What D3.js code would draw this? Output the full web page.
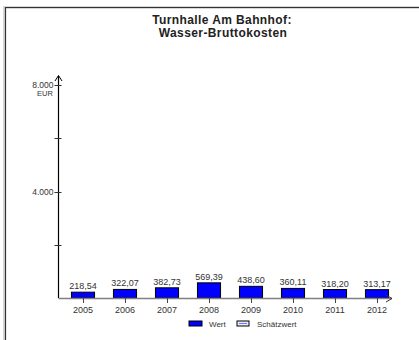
<!DOCTYPE html>
<html><head><meta charset="utf-8">
<script src="https://cdn.jsdelivr.net/npm/d3@7"></script>
<style>body{margin:0;background:#fff}svg{display:block}text{font-family:"Liberation Sans",Arial,sans-serif}</style>
</head><body>
<svg id="c" width="419" height="340"></svg>
<script>
const years = ["2005","2006","2007","2008","2009","2010","2011","2012"];
const values = [218.54,322.07,382.73,569.39,438.60,360.11,318.20,313.17];
const yTicks = [2000,4000,6000,8000];
const yLabels = [4000,8000];
const titleLines = ["Turnhalle Am Bahnhof:","Wasser-Bruttokosten"];
const legendItems = ["Wert","Schätzwert"];

const svg = d3.select("#c");
// frame
svg.append("path").attr("d","M4.5,340V7.5H419").attr("fill","none").attr("stroke","#d8d8d8").attr("stroke-width",3);
svg.append("path").attr("d","M5.5,340V7.5H419").attr("fill","none").attr("stroke","#333").attr("stroke-width",1.2);

const x = d3.scaleBand().domain(years).range([62,398]).paddingInner(0.45).paddingOuter(0.225);
const y = d3.scaleLinear().domain([0,8000]).range([298,85]);
const x0 = 58.5;

// title
svg.append("g").selectAll("text").data(titleLines).join("text")
  .attr("x",(d,i)=>222+i).attr("y",(d,i)=>24+i*13).attr("text-anchor","middle")
  .attr("font-size",12).attr("letter-spacing",0.4).attr("font-weight","bold").attr("fill","#222").text(d=>d);

// bars
const fmt = v => d3.format(".2f")(v).replace(".",",");
svg.append("g").selectAll("rect").data(values).join("rect")
  .attr("x",(d,i)=>x(years[i])).attr("width",x.bandwidth())
  .attr("y",d=>y(d)).attr("height",d=>y(0)-y(d))
  .attr("fill","#0000ff").attr("stroke","#000").attr("stroke-width",1);
svg.append("g").selectAll("text").data(values).join("text")
  .attr("x",(d,i)=>x(years[i])+x.bandwidth()/2).attr("y",d=>y(d)-3)
  .attr("text-anchor","middle").attr("font-size",9).attr("fill","#333").text(fmt);

// x axis
svg.append("line").attr("x1",x0).attr("x2",392).attr("y1",298.5).attr("y2",298.5).attr("stroke","#808080").attr("stroke-width",1.5);
svg.append("path").attr("d","M386,295L392,298.5L386,302").attr("fill","none").attr("stroke","#333").attr("stroke-width",1);
const xg = svg.append("g");
xg.selectAll("line").data(years).join("line")
  .attr("x1",d=>Math.round(x(d)+x.bandwidth()/2)+0.5).attr("x2",d=>Math.round(x(d)+x.bandwidth()/2)+0.5)
  .attr("y1",298).attr("y2",303).attr("stroke","#444");
xg.selectAll("text").data(years).join("text")
  .attr("x",d=>x(d)+x.bandwidth()/2).attr("y",313).attr("text-anchor","middle")
  .attr("font-size",9).attr("fill","#333").text(d=>d);

// y axis
svg.append("line").attr("x1",x0).attr("x2",x0).attr("y1",298).attr("y2",76).attr("stroke","#000").attr("stroke-width",1.2);
svg.append("path").attr("d",`M${x0-3.5},81L${x0},75.5L${x0+3.5},81`).attr("fill","none").attr("stroke","#000").attr("stroke-width",1);
svg.append("g").selectAll("line").data(yTicks).join("line")
  .attr("x1",x0-4).attr("x2",x0+3).attr("y1",d=>Math.round(y(d))+0.5).attr("y2",d=>Math.round(y(d))+0.5)
  .attr("stroke","#333");
svg.append("g").selectAll("text").data(yLabels).join("text")
  .attr("x",x0-5).attr("y",d=>y(d)+3).attr("text-anchor","end")
  .attr("font-size",8.5).attr("fill","#333").text(d=>d3.format(",")(d).replace(",","."));
svg.append("text").attr("x",45).attr("y",y(8000)+11).attr("text-anchor","middle")
  .attr("font-size",7.5).attr("fill","#333").text("EUR");

// legend
const lg = svg.append("g").attr("transform","translate(189,324)");
lg.append("rect").attr("x",0).attr("y",-3).attr("width",13).attr("height",5).attr("fill","#0000ff").attr("stroke","#000");
lg.append("text").attr("x",20).attr("y",3).attr("font-size",8).attr("fill","#333").text(legendItems[0]);
lg.append("rect").attr("x",48).attr("y",-3).attr("width",12).attr("height",5).attr("fill","#e8ecff").attr("stroke","#000");
lg.append("line").attr("x1",50).attr("x2",58).attr("y1",-0.5).attr("y2",-0.5).attr("stroke","#6a7dff").attr("stroke-width",1);
lg.append("text").attr("x",68).attr("y",3).attr("font-size",8).attr("fill","#333").text(legendItems[1]);
</script>
</body></html>
